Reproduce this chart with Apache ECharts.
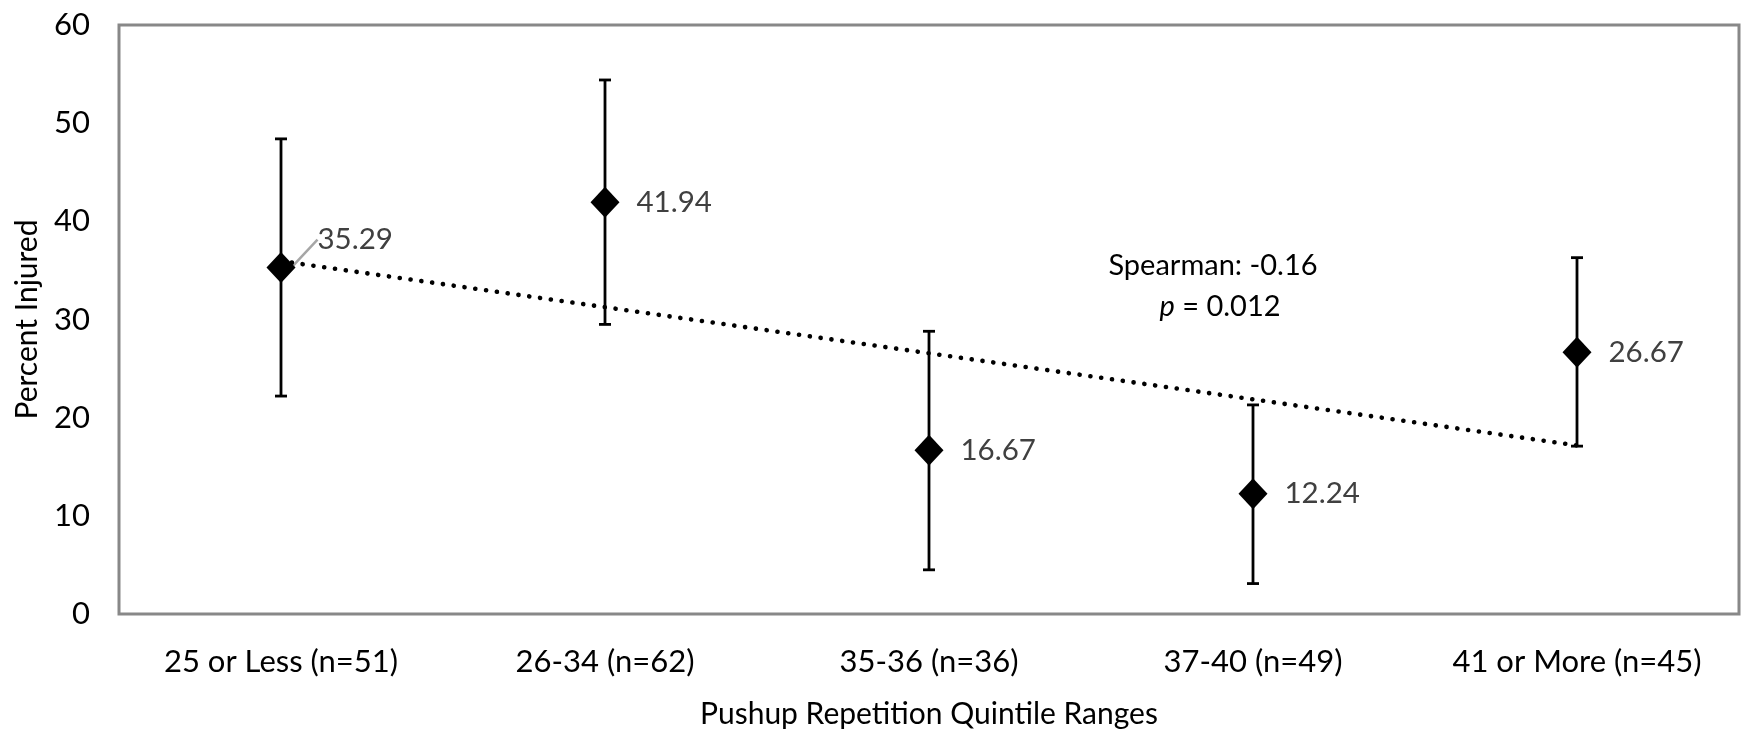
<!DOCTYPE html>
<html><head><meta charset="utf-8">
<script src="https://cdn.jsdelivr.net/npm/echarts@6/dist/echarts.min.js"></script>
<style>html,body{margin:0;padding:0;background:#fff}#c{width:1741px;height:734px}</style>
</head><body><div id="c"></div>
<script>
// ---- data ----
const categories = ['25 or Less (n=51)', '26-34 (n=62)', '35-36 (n=36)', '37-40 (n=49)', '41 or More (n=45)'];
const percentInjured = [35.29, 41.94, 16.67, 12.24, 26.67];
const ciLower = [22.2, 29.5, 4.5, 3.1, 17.1];
const ciUpper = [48.4, 54.4, 28.8, 21.3, 36.3];
const trendCategoryIdx = [0, 4];
const trendValues = [35.95, 17.17];
const yMin = 0, yMax = 60, yInterval = 10;
const annotationLines = ['Spearman: -0.16', 'p', ' = 0.012'];

const FONT = 'Lato, "Open Sans", sans-serif';
const chart = echarts.init(document.getElementById('c'), null, {renderer: 'canvas'});

chart.setOption({
  animation: false,
  backgroundColor: '#fff',
  grid: {left: 119, right: 2, top: 25, bottom: 112, show: true, borderColor: '#888888', borderWidth: 3, backgroundColor: 'transparent'},
  xAxis: {
    type: 'category', data: categories, boundaryGap: true,
    axisLine: {show: false}, axisTick: {show: false}, splitLine: {show: false},
    axisLabel: {fontSize: 31, color: '#000', fontFamily: FONT, margin: 32},
    name: 'Pushup Repetition Quintile Ranges', nameLocation: 'middle', nameGap: 85,
    nameTextStyle: {fontSize: 30, color: '#000', fontFamily: FONT}
  },
  yAxis: {
    type: 'value', min: yMin, max: yMax, interval: yInterval,
    axisLine: {show: false}, axisTick: {show: false}, splitLine: {show: false},
    axisLabel: {fontSize: 31, color: '#000', fontFamily: FONT, margin: 29},
    name: 'Percent Injured', nameLocation: 'middle', nameGap: 77, nameRotate: 90,
    nameTextStyle: {fontSize: 30, color: '#000', fontFamily: FONT}
  },
  graphic: [
    {
      type: 'text', x: 1213, y: 266, z: 10,
      style: {text: annotationLines[0], fontSize: 29, fontFamily: FONT, fill: '#000', align: 'center', verticalAlign: 'middle'}
    },
    {
      type: 'text', x: 1220, y: 307, z: 10,
      style: {
        text: '{i|' + annotationLines[1] + '}' + annotationLines[2],
        fontSize: 29, fontFamily: FONT, fill: '#000', align: 'center', verticalAlign: 'middle',
        rich: {i: {fontStyle: 'italic', fontSize: 29, fontFamily: FONT}}
      }
    }
  ],
  series: [
    {
      type: 'custom', z: 1,
      data: categories.map((c, i) => [i, ciLower[i], ciUpper[i]]),
      renderItem(params, api) {
        const x = api.value(0);
        const lo = api.coord([x, api.value(1)]);
        const hi = api.coord([x, api.value(2)]);
        const cap = 6;
        const st = {stroke: '#000', lineWidth: 2.8};
        return {type: 'group', children: [
          {type: 'line', shape: {x1: lo[0], y1: lo[1], x2: hi[0], y2: hi[1]}, style: st},
          {type: 'line', shape: {x1: lo[0] - cap, y1: lo[1], x2: lo[0] + cap, y2: lo[1]}, style: st},
          {type: 'line', shape: {x1: hi[0] - cap, y1: hi[1], x2: hi[0] + cap, y2: hi[1]}, style: st}
        ]};
      }
    },
    {
      type: 'scatter', z: 2,
      symbol: 'diamond', symbolSize: [29, 31],
      itemStyle: {color: '#000', opacity: 1},
      data: percentInjured.map((v, i) => i === 0
        ? {value: v, labelLine: {show: true, lineStyle: {color: '#a6a6a6', width: 2.5}}}
        : {value: v}),
      label: {
        show: true, position: 'right', distance: 17,
        formatter: p => p.value.toFixed(2),
        fontSize: 29.5, color: '#404040', fontFamily: FONT
      },
      labelLayout(params) {
        if (params.dataIndex === 0) return {dx: 5, dy: -28};
        return {};
      }
    },
    {
      type: 'line', z: 3, symbol: 'none', silent: true,
      data: trendCategoryIdx.map((c, i) => [c, trendValues[i]]),
      lineStyle: {color: '#000', width: 4.6, type: [0.1, 10.8], cap: 'round'}
    }
  ]
});
</script></body></html>
